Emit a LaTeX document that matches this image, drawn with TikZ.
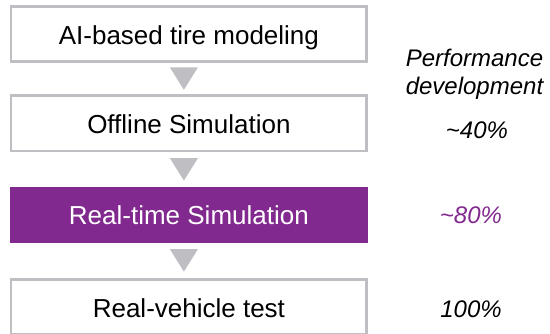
\documentclass[tikz,border=0pt]{standalone}
\usepackage{fontspec}
\setmainfont{Liberation Sans}
\usetikzlibrary{calc}
\definecolor{framegray}{RGB}{191,191,195}
\definecolor{simpurple}{RGB}{130,41,143}
\tikzset{every picture/.style={line width=0.75pt}}
\tikzset{
  stage/.style={draw=framegray, line width=1.9pt, fill=white, inner sep=0pt,
    minimum width=266.6pt, minimum height=41.5pt, text height=15.4pt, text depth=0pt,
    font=\fontsize{19.5}{23}\selectfont},
  hot/.style={stage, draw=simpurple, fill=simpurple, text=white, minimum height=40.2pt},
  gain/.style={anchor=base, inner sep=0pt, align=center, font=\fontsize{18}{20.5}\selectfont\itshape},
  arrowhead/.style={fill=framegray}
}

\begin{document}
\begin{tikzpicture}[x=0.75pt,y=0.75pt,yscale=-1,xscale=1]
	\clip (0,0) rectangle (550,333);
	% Stage boxes
	\node [stage] (model) at (188.9,33.9) {AI-based tire modeling};
	\node [stage] (offline) at (188.9,123.3) {Offline Simulation};
	\node [hot] (realtime) at (188.9,214.7) {Real-time Simulation};
	\node [stage] (vehicle) at (188.9,307) {Real-vehicle test};
	% Triangles between stages
	\foreach \u/\v in {model/offline, offline/realtime, realtime/vehicle}
		\fill [arrowhead] ($(\u.south)!0.5!(\v.north)+(-19,-11.2)$) -- ++(28,0) -- ++(-14,22.4) -- cycle ;
	% Text Node (base sits on the last line)
	\node [gain] (head) at (474.5,94) {Performance\\development};
	% Text Node
	\node [gain] (gainoff) at (477,138.3) {\textasciitilde40\%};
	% Text Node
	\node [gain, text=simpurple] (gainrt) at (471,223) {\textasciitilde80\%};
	% Text Node
	\node [gain] (gainveh) at (471,317) {100\%};
\end{tikzpicture}
\end{document}
